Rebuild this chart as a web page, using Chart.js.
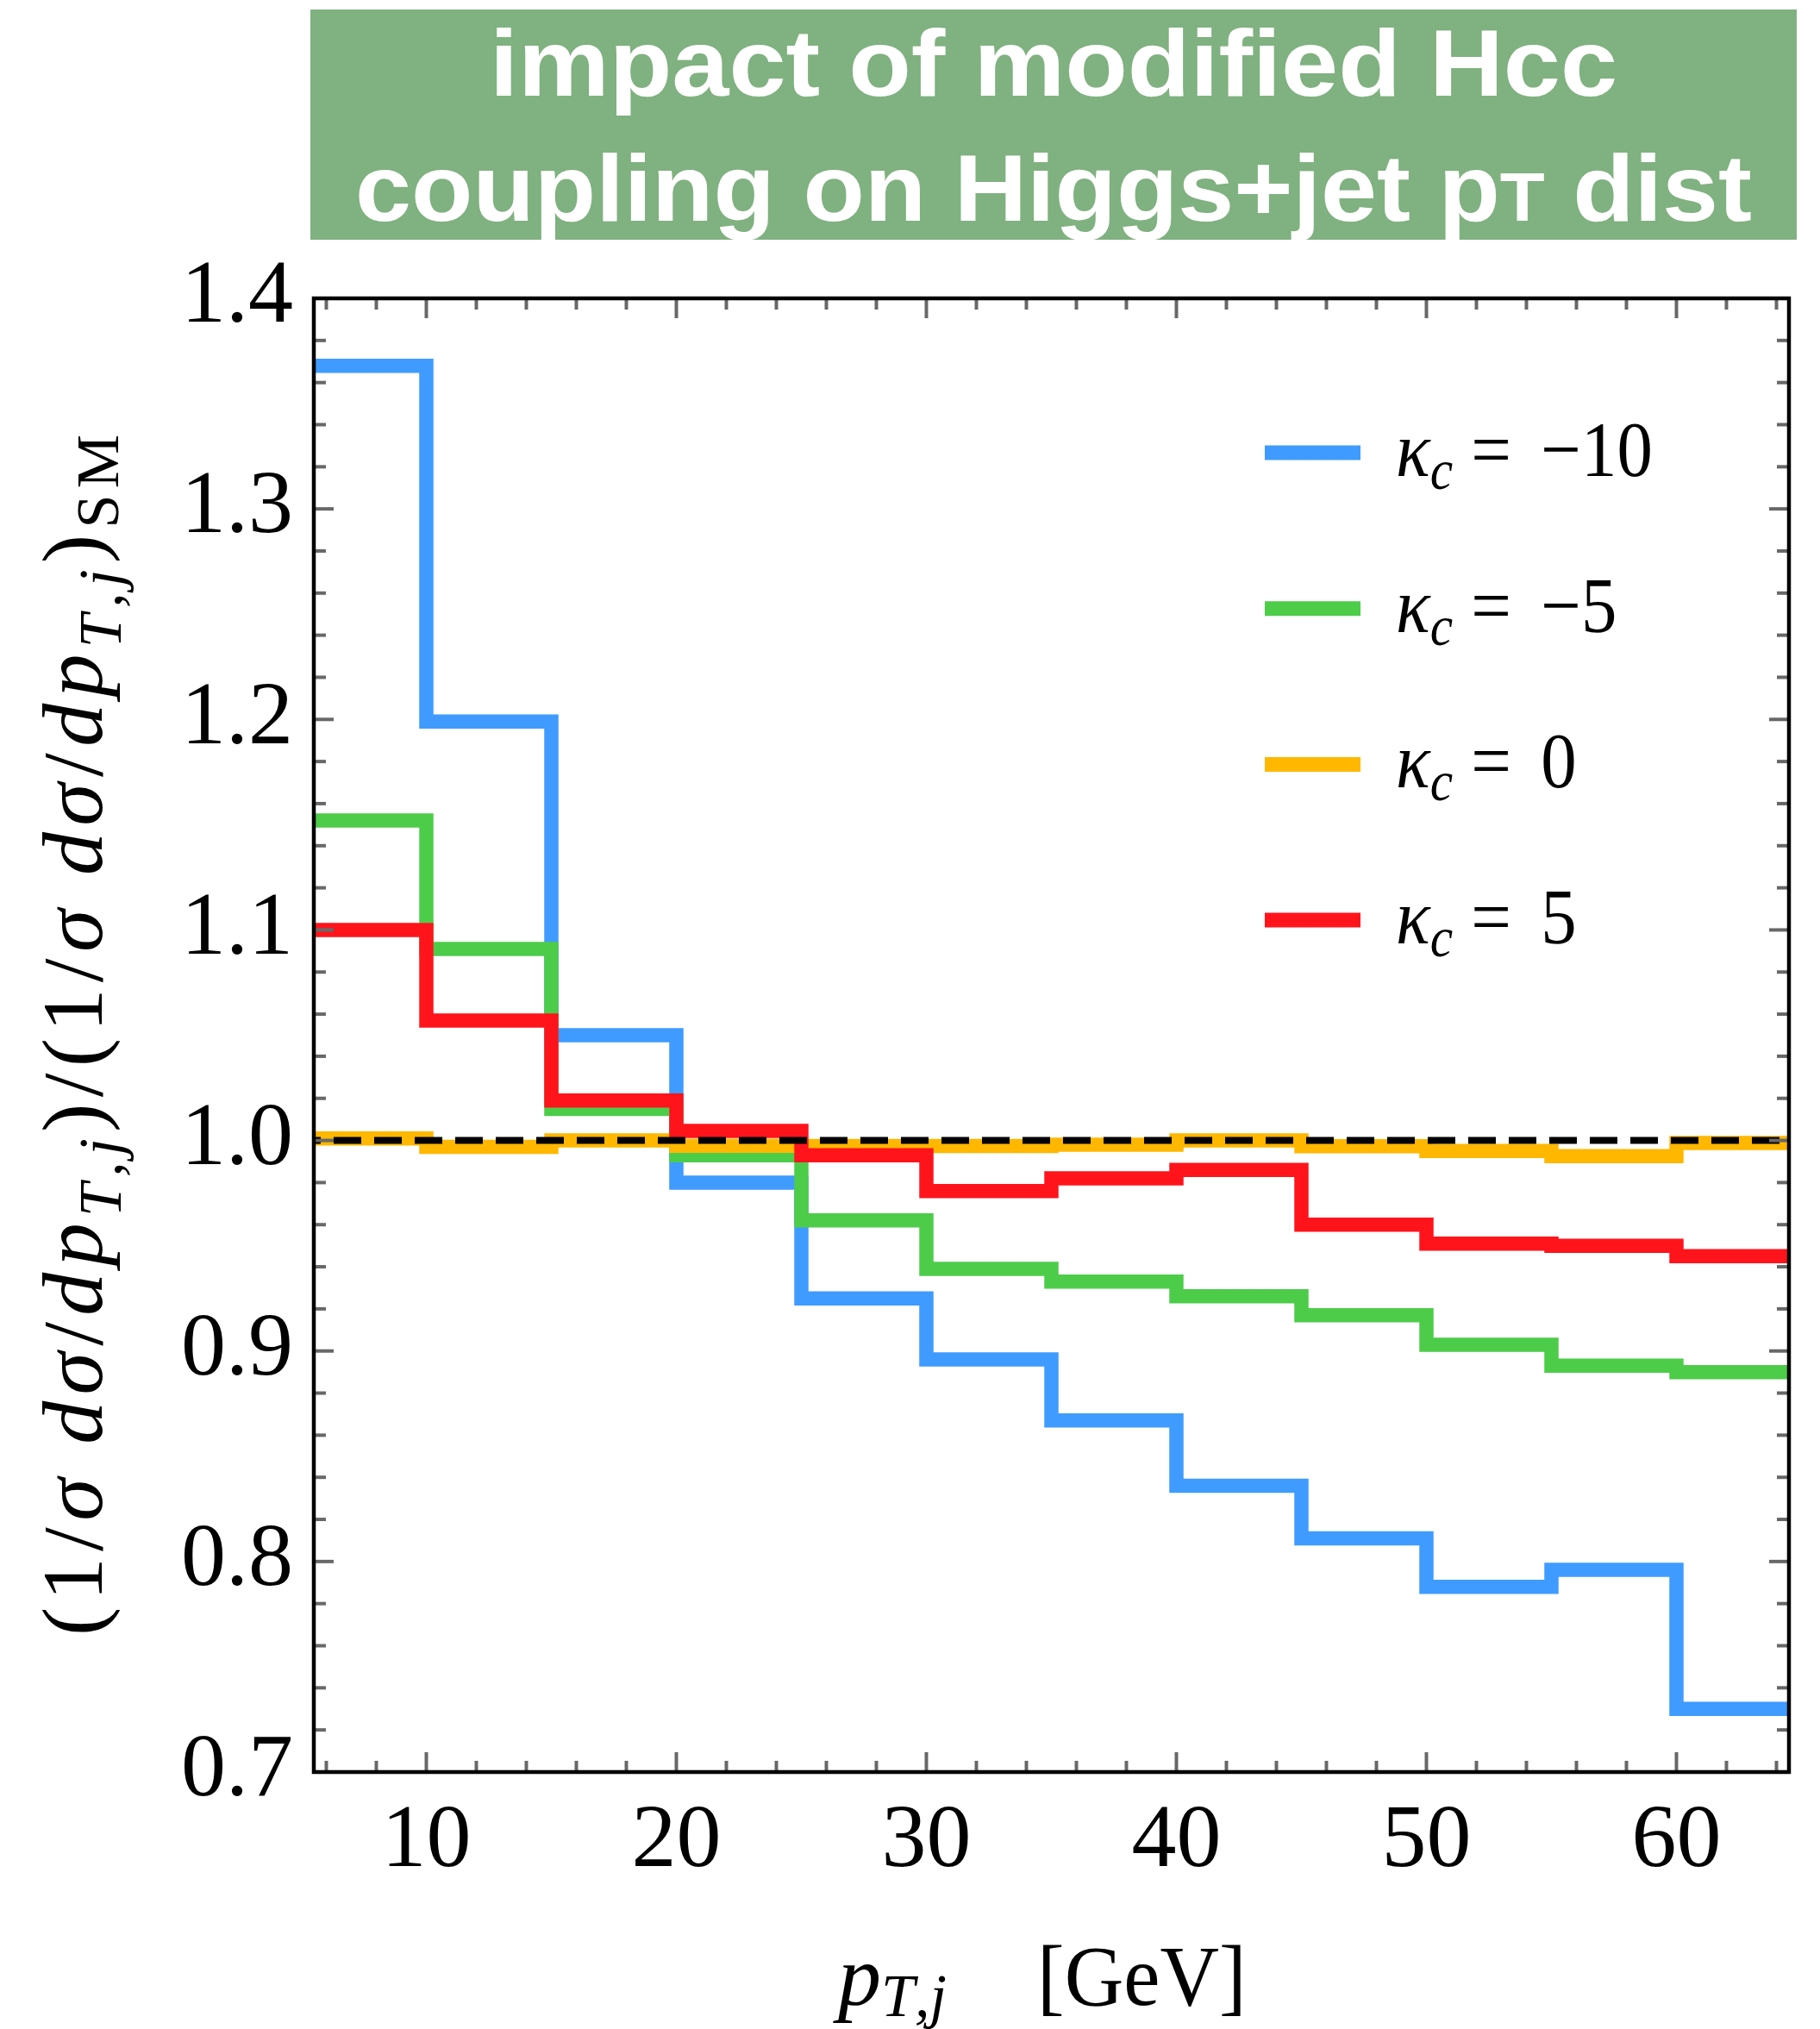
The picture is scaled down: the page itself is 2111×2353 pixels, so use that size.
<!DOCTYPE html>
<html>
<head>
<meta charset="utf-8">
<title>Impact of modified Hcc coupling on Higgs+jet pT distribution</title>
<script src="https://cdn.jsdelivr.net/npm/chart.js@4.4.1/dist/chart.umd.min.js"></script>
<style>
  html, body { margin: 0; padding: 0; background: #ffffff; }
  canvas { display: block; }
</style>
</head>
<body>
<canvas id="ratio" width="2111" height="2353" style="width:2111px;height:2353px"></canvas>
<script>
// Jet transverse-momentum bin edges (GeV)
const binEdges = [5, 10, 15, 20, 25, 30, 35, 40, 45, 50, 55, 60, 65];

// Normalised distribution divided by the Standard Model one, one value per bin
const kappaMinus10 = [1.368, 1.199, 1.050, 0.980, 0.925, 0.896, 0.867, 0.836, 0.811, 0.788, 0.796, 0.730];
const kappaMinus5  = [1.152, 1.091, 1.015, 0.993, 0.962, 0.939, 0.933, 0.926, 0.917, 0.903, 0.893, 0.890];
const kappaZero    = [1.001, 0.997, 1.000, 0.9975, 0.9974, 0.9974, 0.998, 1.000, 0.9973, 0.995, 0.9926, 0.9988];
const kappaPlus5   = [1.100, 1.057, 1.019, 1.0045, 0.993, 0.976, 0.982, 0.986, 0.960, 0.951, 0.950, 0.945];

// Legend values of the charm Yukawa modifier
const kappaLabels = ['−10', '−5', '0', '5'];

// Standard Model reference ratio
const smReference = 1.0;

// Axis ranges and labelled ticks
const xRange = [5.5, 64.5];
const yRange = [0.7, 1.4];
const xTickValues = [10, 20, 30, 40, 50, 60];
const yTickValues = [0.7, 0.8, 0.9, 1.0, 1.1, 1.2, 1.3, 1.4];

const seriesValues = [kappaMinus10, kappaMinus5, kappaZero, kappaPlus5];
const seriesColors = ['rgb(63,155,255)', 'rgb(77,204,74)', 'rgb(255,183,0)', 'rgb(255,20,28)'];

// Each bin value holds from its left edge to the next edge; the last one is carried to the final edge
const toSteps = vals => binEdges.map((e, i) => ({ x: e, y: vals[Math.min(i, vals.length - 1)] }));

const datasets = seriesValues.map((vals, i) => ({
  label: 'κc = ' + kappaLabels[i],
  data: toSteps(vals),
  stepped: 'before',
  borderColor: seriesColors[i],
  borderWidth: 16.5,
  borderJoinStyle: 'miter',
  borderCapStyle: 'butt',
  pointRadius: 0,
  fill: false,
  clip: 0,
  order: seriesValues.length - i
}));

datasets.push({
  label: 'SM',
  data: [{ x: xRange[0], y: smReference }, { x: xRange[1], y: smReference }],
  borderColor: '#000000',
  borderWidth: 8,
  borderDash: [32, 15],
  borderDashOffset: 24,
  borderCapStyle: 'butt',
  pointRadius: 0,
  fill: false,
  clip: 0,
  order: 0
});

const SERIF = '"Liberation Serif", "Times New Roman", serif';
const SANS = '"Liberation Sans", Arial, sans-serif';

function runsWidth(ctx, runs, track) {
  let w = 0, n = 0;
  for (const r of runs) {
    ctx.font = r.font;
    w += r.pre || 0;
    for (const ch of r.t) { w += ctx.measureText(ch).width; n++; }
  }
  return w + track * (n - 1);
}

function drawRuns(ctx, runs, x, y, track) {
  let cx = x;
  for (const r of runs) {
    ctx.font = r.font;
    cx += r.pre || 0;
    for (const ch of r.t) {
      ctx.fillText(ch, cx, y + (r.dy || 0));
      cx += ctx.measureText(ch).width + track;
    }
  }
  return cx;
}

// Frame with inward ticks on all four sides, plus title, legend and axis titles
const decorations = {
  id: 'decorations',
  afterDatasetsDraw(chart) {
    const { ctx, chartArea: a, scales } = chart;
    const xs = scales.x, ys = scales.y;
    ctx.save();
    ctx.strokeStyle = 'rgb(104,104,104)';
    ctx.lineWidth = 4;
    ctx.lineCap = 'butt';
    const seg = (x1, y1, x2, y2) => { ctx.beginPath(); ctx.moveTo(x1, y1); ctx.lineTo(x2, y2); ctx.stroke(); };
    for (let v = 6; v <= 64; v += 2) {
      const px = xs.getPixelForValue(v);
      const len = v % 10 === 0 ? 23 : 13;
      seg(px, a.bottom, px, a.bottom - len);
      seg(px, a.top, px, a.top + len);
    }
    for (let k = 0; k <= 35; k++) {
      const py = ys.getPixelForValue(0.7 + 0.02 * k);
      const len = k % 5 === 0 ? 23 : 14;
      seg(a.left, py, a.left + len, py);
      seg(a.right, py, a.right - len, py);
    }
    ctx.strokeStyle = '#000000';
    ctx.lineWidth = 4.5;
    ctx.strokeRect(a.left, a.top, a.right - a.left, a.bottom - a.top);
    ctx.restore();
  },
  afterDraw(chart) {
    const { ctx, chartArea: a } = chart;
    ctx.save();

    // Title banner
    ctx.fillStyle = 'rgb(128,177,128)';
    ctx.fillRect(360, 11, 1724, 267);
    ctx.fillStyle = '#ffffff';
    ctx.textBaseline = 'alphabetic';
    const tMain = 'bold 110px ' + SANS;
    const tSmall = 'bold 80px ' + SANS;
    const cx = (360 + 2084) / 2;
    const line1 = [{ t: 'impact of modified Hcc', font: tMain }];
    const line2 = [
      { t: 'coupling on Higgs+jet p', font: tMain },
      { t: 'T', font: tSmall },
      { t: ' dist', font: tMain }
    ];
    [[line1, 1308, 111], [line2, 1620, 256]].forEach(([runs, target, base]) => {
      const w = runsWidth(ctx, runs, 0);
      ctx.save();
      ctx.translate(cx - target / 2, base);
      ctx.scale(target / w, 1);
      drawRuns(ctx, runs, 0, 0, 0);
      ctx.restore();
    });

    // Legend
    ctx.fillStyle = '#000000';
    datasets.slice(0, kappaLabels.length).forEach((ds, i) => {
      const cy = 525 + i * 180.7;
      ctx.strokeStyle = ds.borderColor;
      ctx.lineWidth = 17;
      ctx.beginPath();
      ctx.moveTo(1467, cy);
      ctx.lineTo(1578, cy);
      ctx.stroke();
      ctx.save();
      ctx.translate(1619, cy + 27);
      ctx.scale(0.9, 1);
      drawRuns(ctx, [
        { t: 'κ', font: 'italic 92px ' + SERIF },
        { t: 'c', font: 'italic 66px ' + SERIF, dy: 15 }
      ], 0, 0, 0);
      ctx.font = '92px ' + SERIF;
      ctx.fillText('=', 97, 0);
      ctx.fillText(kappaLabels[i], 187, 0);
      ctx.restore();
    });

    // Vertical axis title
    const M = '100px ' + SERIF, I = 'italic 100px ' + SERIF;
    const S = 'italic 70px ' + SERIF, SU = '70px ' + SERIF;
    const yRuns = [
      { t: '(1/', font: M }, { t: 'σ', font: I }, { t: ' ', font: M }, { t: 'dσ', font: I },
      { t: '/', font: M }, { t: 'dp', font: I }, { t: 'T,j', font: S, dy: 22 },
      { t: ')/(1/', font: M }, { t: 'σ', font: I }, { t: ' ', font: M }, { t: 'dσ', font: I },
      { t: '/', font: M }, { t: 'dp', font: I }, { t: 'T,j', font: S, dy: 22 },
      { t: ')', font: M }, { t: 'SM', font: SU, dy: 19 }
    ];
    const yLen = 1393;
    let nChars = 0;
    yRuns.forEach(r => { nChars += [...r.t].length; });
    const natural = runsWidth(ctx, yRuns, 0);
    const track = (yLen - natural) / (nChars - 1);
    ctx.save();
    ctx.translate(118, (a.top + a.bottom) / 2);
    ctx.rotate(-Math.PI / 2);
    drawRuns(ctx, yRuns, -yLen / 2, 0, track);
    ctx.restore();

    // Horizontal axis title
    drawRuns(ctx, [
      { t: 'p', font: I },
      { t: 'T,j', font: S, dy: 13 }
    ], 972, 2325, 0);
    ctx.font = M;
    ctx.save();
    ctx.translate(1203, 2325);
    ctx.scale(0.95, 1);
    ctx.fillText('[GeV]', 0, 0);
    ctx.restore();

    ctx.restore();
  }
};

new Chart(document.getElementById('ratio'), {
  type: 'line',
  data: { datasets },
  options: {
    responsive: false,
    animation: false,
    devicePixelRatio: 1,
    layout: { padding: { top: 346, right: 36, left: 0, bottom: 0 } },
    plugins: {
      legend: { display: false },
      tooltip: { enabled: false },
      title: { display: false }
    },
    scales: {
      x: {
        type: 'linear',
        min: xRange[0],
        max: xRange[1],
        afterBuildTicks: s => { s.ticks = xTickValues.map(v => ({ value: v })); },
        afterFit: s => { s.height = 298; },
        grid: { display: false, drawTicks: false },
        border: { display: false },
        ticks: {
          autoSkip: false,
          maxRotation: 0,
          padding: 19,
          color: '#000000',
          font: { family: SERIF, size: 104 }
        }
      },
      y: {
        type: 'linear',
        min: yRange[0],
        max: yRange[1],
        afterBuildTicks: s => { s.ticks = yTickValues.map(v => ({ value: v })); },
        afterFit: s => { s.width = 364; },
        grid: { display: false, drawTicks: false },
        border: { display: false },
        ticks: {
          autoSkip: false,
          padding: 24,
          color: '#000000',
          font: { family: SERIF, size: 104 },
          callback: v => Number(v).toFixed(1)
        }
      }
    }
  },
  plugins: [decorations]
});
</script>
</body>
</html>
